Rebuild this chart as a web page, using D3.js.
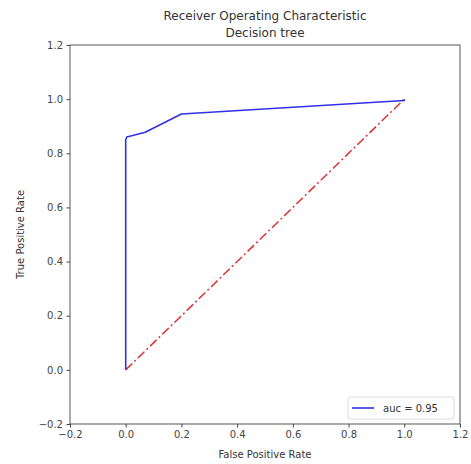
<!DOCTYPE html>
<html><head><meta charset="utf-8">
<script src="https://cdn.jsdelivr.net/npm/d3@7"></script>
<style>body{margin:0;background:#fff;} text{font-family:"DejaVu Sans",sans-serif;}</style>
</head><body>
<svg id="c" width="471" height="464"></svg>
<script>
const fpr = [0, 0, 0.004, 0.025, 0.07, 0.2, 1.0, 1.0];
const tpr = [0, 0.85, 0.86, 0.866, 0.878, 0.945, 0.995, 1.0];
const diagX = [0, 1];
const diagY = [0, 1];
const tickVals = [-0.2, 0.0, 0.2, 0.4, 0.6, 0.8, 1.0, 1.2];
const titleLines = ["Receiver Operating Characteristic", "Decision tree"];
const legendLabel = "auc = 0.95";

const svg = d3.select("#c");
const L = 70, R = 460, T = 45, B = 424;
const x = d3.scaleLinear().domain([-0.2, 1.2]).range([L, R]);
const y = d3.scaleLinear().domain([-0.2, 1.2]).range([B, T]);
const fmt = d => (d < 0 ? "\u2212" + Math.abs(d).toFixed(1) : d.toFixed(1));

const xAxis = d3.axisBottom(x).tickValues(tickVals).tickFormat(fmt).tickSize(3.5).tickPadding(3.5);
const yAxis = d3.axisLeft(y).tickValues(tickVals).tickFormat(fmt).tickSize(3.5).tickPadding(3.5);
const gx = svg.append("g").attr("transform", `translate(0,${B})`).call(xAxis);
const gy = svg.append("g").attr("transform", `translate(${L},0)`).call(yAxis);
[gx, gy].forEach(g => {
  g.select(".domain").remove();
  g.selectAll("line").attr("stroke", "#444");
  g.selectAll("text").attr("fill", "#444").style("font-size", "10px");
});
svg.append("rect").attr("x", L).attr("y", T).attr("width", R - L).attr("height", B - T)
  .attr("fill", "none").attr("stroke", "#444").attr("stroke-width", 0.9);

const line = d3.line().x(d => x(d[0])).y(d => y(d[1]));
svg.append("path").datum(diagX.map((v, i) => [v, diagY[i]])).attr("d", line)
  .attr("fill", "none").attr("stroke", "#e03030").attr("stroke-width", 1.5)
  .attr("stroke-dasharray", "9,3,2,3");
svg.append("path").datum(fpr.map((v, i) => [v, tpr[i]])).attr("d", line)
  .attr("fill", "none").attr("stroke", "#3030e8").attr("stroke-width", 1.6)
  .attr("stroke-linejoin", "round");

svg.selectAll(".title").data(titleLines).enter().append("text")
  .attr("x", (L + R) / 2).attr("y", (d, i) => 20 + i * 17).attr("text-anchor", "middle")
  .attr("fill", "#333").style("font-size", "12px").text(d => d);
svg.append("text").attr("x", (L + R) / 2).attr("y", 458).attr("text-anchor", "middle")
  .attr("fill", "#333").style("font-size", "10px").text("False Positive Rate");
svg.append("text").attr("transform", `translate(24,${(T + B) / 2}) rotate(-90)`).attr("text-anchor", "middle")
  .attr("fill", "#333").style("font-size", "10px").text("True Positive Rate");

const lg = svg.append("g");
lg.append("rect").attr("x", 348).attr("y", 397).attr("width", 106).attr("height", 22).attr("rx", 2)
  .attr("fill", "#fff").attr("stroke", "#ddd");
lg.append("line").attr("x1", 352).attr("x2", 374).attr("y1", 408).attr("y2", 408)
  .attr("stroke", "#3030e8").attr("stroke-width", 1.6);
lg.append("text").attr("x", 383).attr("y", 412).attr("fill", "#333").style("font-size", "10px").text(legendLabel);
</script>
</body></html>
